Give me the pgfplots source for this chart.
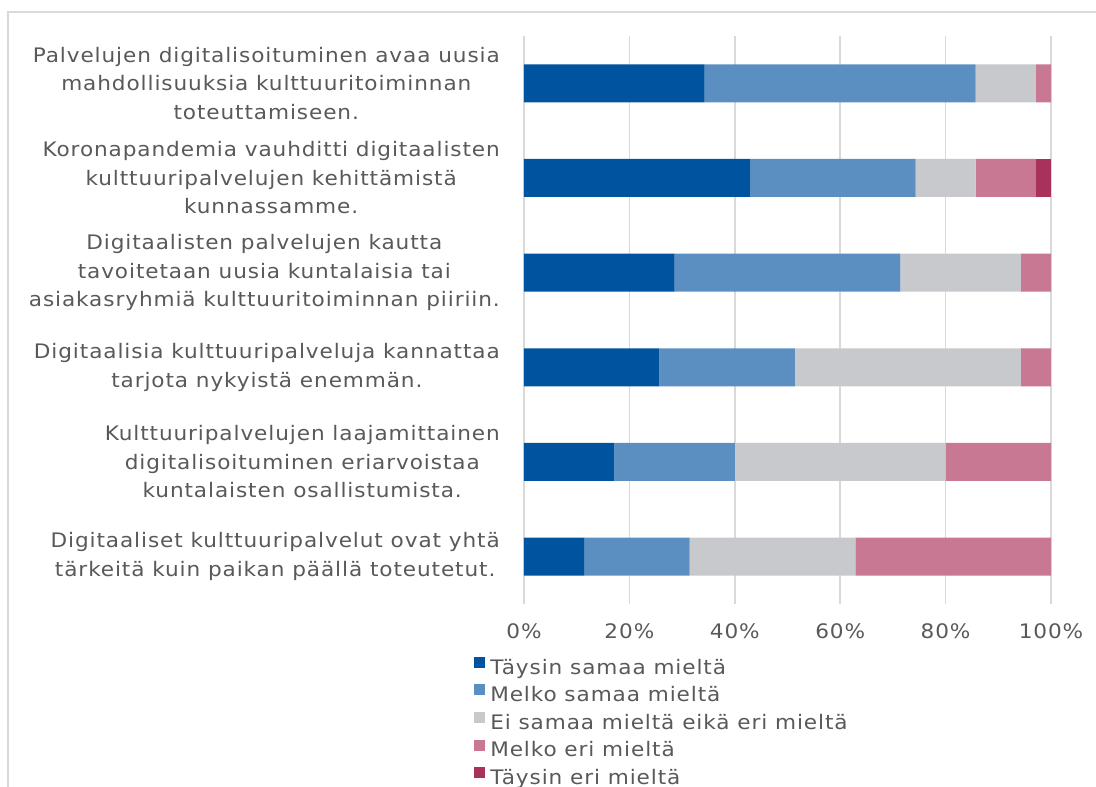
\documentclass[border=0pt]{standalone}
\usepackage{fontspec}
\setmainfont[FakeStretch=1.08, LetterSpace=4.5]{DejaVu Sans}
\usepackage{pgfplots}
\pgfplotsset{compat=1.18}
\definecolor{c1}{RGB}{0,84,159}
\definecolor{c2}{RGB}{91,143,194}
\definecolor{c3}{RGB}{199,201,204}
\definecolor{c4}{RGB}{200,120,146}
\definecolor{c5}{RGB}{168,50,92}
\definecolor{txt}{RGB}{89,89,89}
\definecolor{gridc}{RGB}{217,217,217}
\begin{document}
\fontsize{15pt}{21.4pt}\selectfont
\begin{tikzpicture}[x=0.75pt,y=0.75pt]
\clip (0,0) rectangle (1096,787);
\draw[gridc, line width=1.6pt] (8,-10) -- (8,775) -- (1110,775);
\begin{axis}[
  at={(393pt,137.25pt)}, anchor=south west,
  scale only axis, width=395.25pt, height=426pt,
  xbar stacked, bar width=28.5pt,
  xmin=0, xmax=100, ymin=0.5, ymax=6.5,
  xtick={0,20,40,60,80,100},
  xticklabels={0\%,20\%,40\%,60\%,80\%,100\%},
  ytick={1,2,3,4,5,6},
  yticklabels={
    {Digitaaliset kulttuuripalvelut ovat yhtä\\tärkeitä kuin paikan päällä toteutetut.},
    {Kulttuuripalvelujen laajamittainen\\digitalisoituminen eriarvoistaa\\kuntalaisten osallistumista.},
    {Digitaalisia kulttuuripalveluja kannattaa\\tarjota nykyistä enemmän.},
    {Digitaalisten palvelujen kautta\\tavoitetaan uusia kuntalaisia tai\\asiakasryhmiä kulttuuritoiminnan piiriin.},
    {Koronapandemia vauhditti digitaalisten\\kulttuuripalvelujen kehittämistä\\kunnassamme.},
    {Palvelujen digitalisoituminen avaa uusia\\mahdollisuuksia kulttuuritoiminnan\\toteuttamiseen.}
  },
  axis line style={draw=none},
  major tick length=0pt,
  xmajorgrids, grid style={gridc, line width=1.1pt},
  tick label style={font=\fontsize{15pt}{21.4pt}\selectfont, text=txt},
  yticklabel style={align=center, inner sep=0pt, xshift=-18pt},
  xticklabel style={inner sep=0pt, yshift=-14.5pt},
  legend style={at={(axis description cs:-0.1025,-0.088)}, anchor=north west,
    draw=none, fill=none, font=\fontsize{15pt}{21.4pt}\selectfont, text=txt,
    row sep=4.3pt,
    nodes={inner sep=0pt, text height=11.5pt, text depth=3.5pt},
    /tikz/every odd column/.append style={column sep=3.75pt}},
  legend cell align=left,
  legend image code/.code={\fill[#1] (0pt,0.6pt) rectangle (8.25pt,8.85pt);},
]
\addplot[fill=c1, draw=none] coordinates {(11.43,1) (17.14,2) (25.71,3) (28.57,4) (42.86,5) (34.29,6)};
\addplot[fill=c2, draw=none] coordinates {(20.00,1) (22.86,2) (25.71,3) (42.86,4) (31.43,5) (51.43,6)};
\addplot[fill=c3, draw=none] coordinates {(31.43,1) (40.00,2) (42.86,3) (22.86,4) (11.43,5) (11.43,6)};
\addplot[fill=c4, draw=none] coordinates {(37.14,1) (20.00,2) (5.71,3) (5.71,4) (11.43,5) (2.86,6)};
\addplot[fill=c5, draw=none] coordinates {(0,1) (0,2) (0,3) (0,4) (2.86,5) (0,6)};
\legend{Täysin samaa mieltä, Melko samaa mieltä, Ei samaa mieltä eikä eri mieltä, Melko eri mieltä, Täysin eri mieltä}
\end{axis}
\end{tikzpicture}
\end{document}
